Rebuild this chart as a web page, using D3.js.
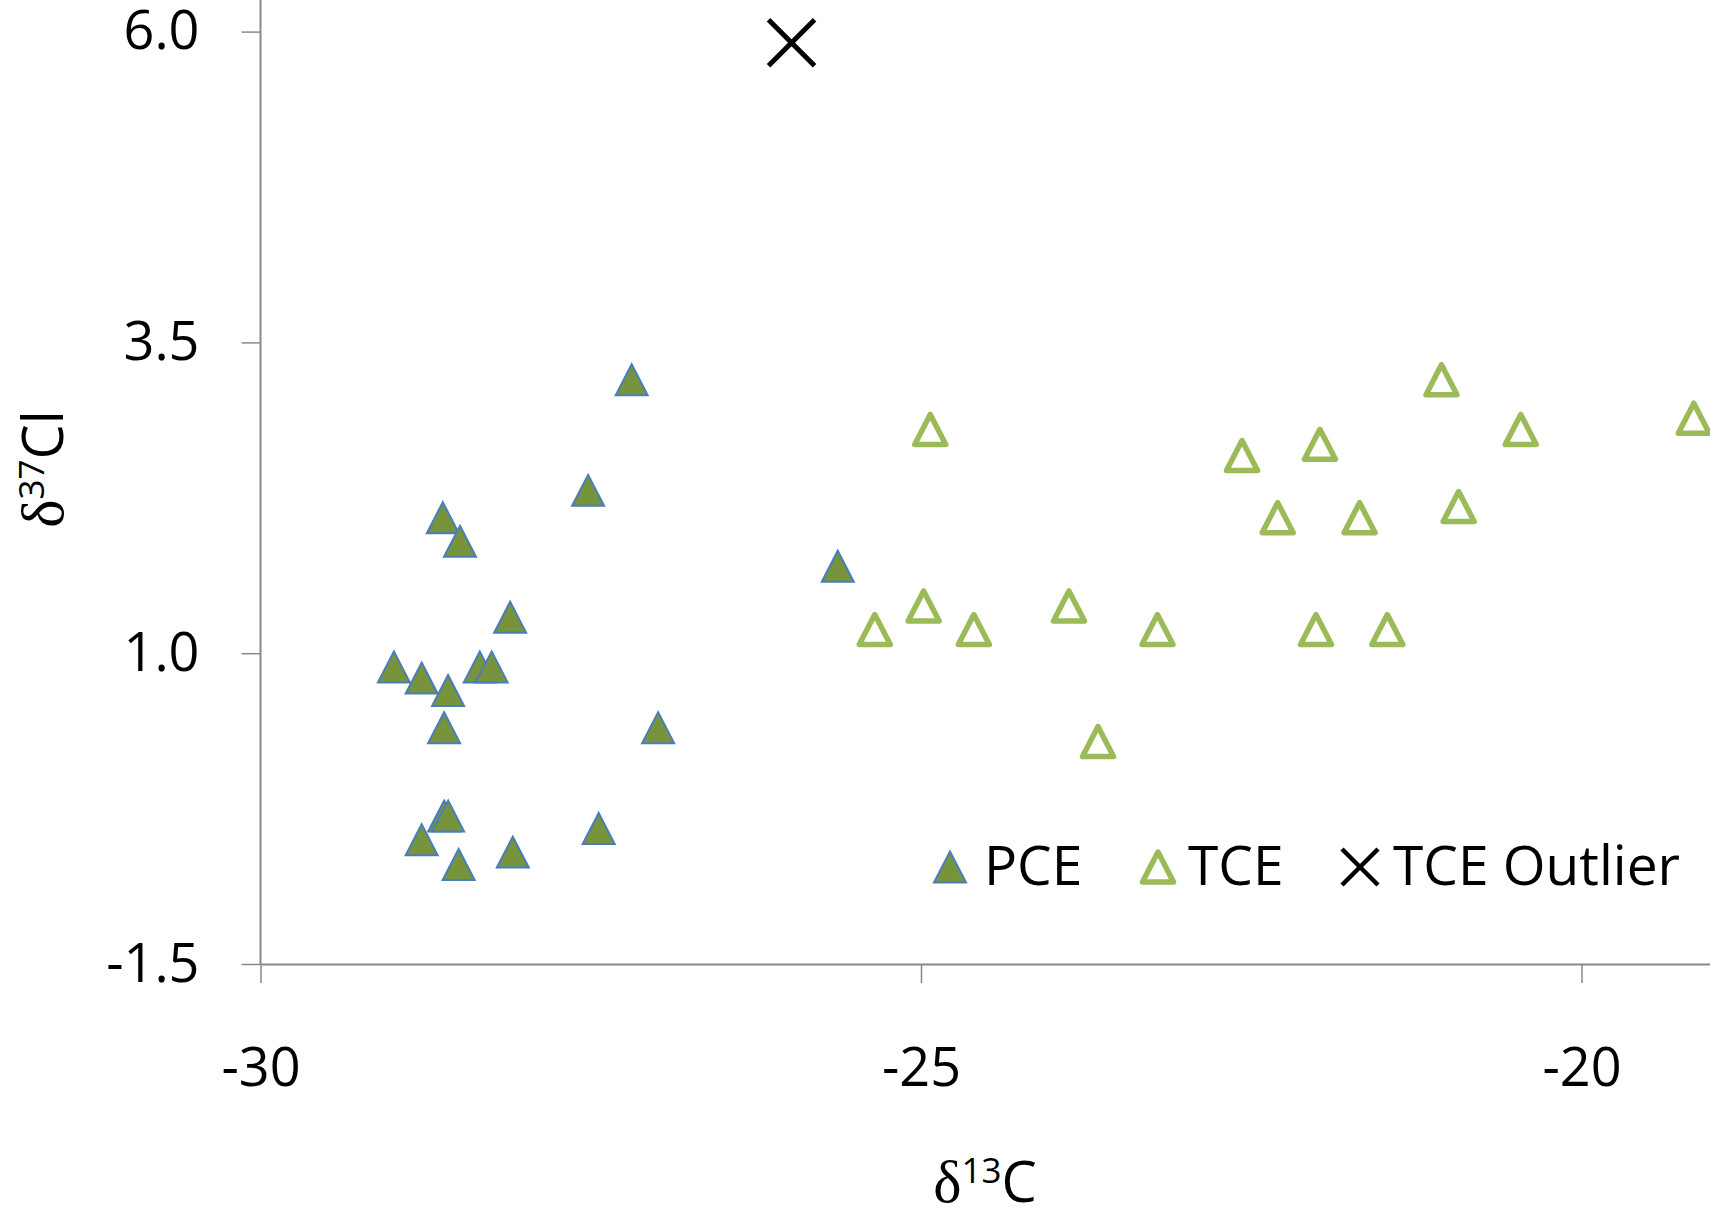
<!DOCTYPE html>
<html>
<head>
    <meta charset="utf-8">
    <title>Carbon vs chlorine isotopes</title>
    <style>
        body { margin: 0; background: #fff; }
        svg { display: block; }
        text { font-family: 'Open Sans', sans-serif; fill: #000; }
        .delta { font-family: 'Liberation Serif', 'DejaVu Serif', serif; }
    </style>
</head>
<body>
<div id="chart"></div>

<script src="https://d3js.org/d3.v7.min.js"></script>
<script>
// values (d13C, d37Cl)
var pceC  = [-27.19, -27.52, -28.62, -28.49, -25.63, -28.11, -28.99, -28.78, -28.58, -28.34,
             -28.25, -28.61, -26.99, -28.61, -28.58, -28.78, -28.50, -28.09, -27.44];
var pceCl = [ 3.20,   2.31,   2.09,   1.90,   1.70,   1.29,   0.89,   0.80,   0.70,   0.89,
              0.89,   0.40,   0.40,  -0.31,  -0.31,  -0.50,  -0.70,  -0.60,  -0.41];

var tceC  = [-24.93, -25.35, -24.98, -24.60, -23.88, -23.21, -23.66, -22.57, -22.30,
             -21.98, -21.68, -21.06, -20.46, -20.93, -19.15, -22.01, -21.47];
var tceCl = [ 2.80,   1.19,   1.38,   1.19,   1.38,   1.19,   0.29,   2.59,   2.09,
              2.68,   2.09,   3.20,   2.80,   2.18,   2.89,   1.19,   1.19];

var outC  = [-25.98];
var outCl = [ 5.91];

var xTicks = [-30, -25, -20];
var yTicks = [-1.5, 1.0, 3.5, 6.0];
var seriesNames = ["PCE", "TCE", "TCE Outlier"];

var width = 1710, height = 1218;
var axisColor = "#898989";

var svg = d3.select("#chart").append("svg")
    .attr("width", width)
    .attr("height", height);

var x = d3.scaleLinear().domain([-30, -19]).range([260.5, 1713.6]);
var y = d3.scaleLinear().domain([-1.5, 6.0]).range([964, 31.6]);

// triangle marker, centred on its bounding box like Excel does
function tri(hw, hh) {
    return "M0," + (-hh) + "L" + hw + "," + hh + "L" + (-hw) + "," + hh + "Z";
}
function cross(r) {
    return "M" + (-r) + "," + (-r) + "L" + r + "," + r + "M" + r + "," + (-r) + "L" + (-r) + "," + r;
}

// axes
var xAxis = svg.append("g")
    .attr("transform", "translate(0," + y(-1.5) + ")")
    .call(d3.axisBottom(x).tickValues(xTicks).tickSize(19).tickSizeOuter(0).tickPadding(65));

var yAxis = svg.append("g")
    .attr("transform", "translate(" + x(-30) + ",0)")
    .call(d3.axisLeft(y).tickValues(yTicks).tickSize(19).tickSizeOuter(0).tickPadding(42));
// y axis line runs to the top edge
yAxis.select(".domain").attr("d", "M0," + y(-1.5) + "V0");

[xAxis, yAxis].forEach(function(g) {
    g.select(".domain").attr("stroke", axisColor).attr("stroke-width", 2);
    g.selectAll(".tick line").attr("stroke", axisColor).attr("stroke-width", 1.5);
    g.selectAll(".tick text")
        .attr("fill", "#000")
        .style("font-size", "54px")
        .style("font-family", "'Open Sans', sans-serif");
});
// d3 uses a unicode minus, the chart has a plain hyphen
xAxis.selectAll(".tick text").text(function(d) { return String(d); });
yAxis.selectAll(".tick text").text(function(d) { return d.toFixed(1); });

// points
var pce = pceC.map(function(c, i) { return {c: c, cl: pceCl[i]}; });
var tce = tceC.map(function(c, i) { return {c: c, cl: tceCl[i]}; });
var out = outC.map(function(c, i) { return {c: c, cl: outCl[i]}; });

svg.append("g").selectAll("path")
    .data(pce).enter().append("path")
    .attr("d", tri(16, 15.5))
    .attr("transform", function(d) { return "translate(" + x(d.c) + "," + y(d.cl) + ")"; })
    .attr("fill", "#77933C")
    .attr("stroke", "#4A7EBB")
    .attr("stroke-width", 2);

svg.append("g").selectAll("path")
    .data(tce).enter().append("path")
    .attr("d", tri(15.5, 15))
    .attr("transform", function(d) { return "translate(" + x(d.c) + "," + y(d.cl) + ")"; })
    .attr("fill", "#fff")
    .attr("stroke", "#9BBB59")
    .attr("stroke-width", 5.5)
    .attr("stroke-linejoin", "round");

svg.append("g").selectAll("path")
    .data(out).enter().append("path")
    .attr("d", cross(23))
    .attr("transform", function(d) { return "translate(" + x(d.c) + "," + y(d.cl) + ")"; })
    .attr("fill", "none")
    .attr("stroke", "#000")
    .attr("stroke-width", 5);

// axis titles
var xTitle = svg.append("text")
    .attr("x", 985).attr("y", 1202)
    .attr("text-anchor", "middle")
    .style("font-size", "56px");
xTitle.append("tspan").attr("class", "delta").style("font-size", "60px").text("δ");
xTitle.append("tspan").attr("dy", -19).style("font-size", "35px").text("13");
xTitle.append("tspan").attr("dy", 19).text("C");

var yTitle = svg.append("text")
    .attr("transform", "translate(63,469) rotate(-90)")
    .attr("text-anchor", "middle")
    .style("font-size", "56px");
yTitle.append("tspan").attr("class", "delta").style("font-size", "60px").text("δ");
yTitle.append("tspan").attr("dy", -19).style("font-size", "35px").text("37");
yTitle.append("tspan").attr("dy", 19).text("Cl");

// legend
var legend = svg.append("g").attr("transform", "translate(0,867)");
var legX = [950, 1158, 1360];

legend.append("path").attr("d", tri(16, 15.5))
    .attr("transform", "translate(" + legX[0] + ",0)")
    .attr("fill", "#77933C").attr("stroke", "#4A7EBB").attr("stroke-width", 2);
legend.append("path").attr("d", tri(15.5, 15))
    .attr("transform", "translate(" + legX[1] + ",0)")
    .attr("fill", "#fff").attr("stroke", "#9BBB59").attr("stroke-width", 5.5)
    .attr("stroke-linejoin", "round");
legend.append("path").attr("d", cross(18))
    .attr("transform", "translate(" + legX[2] + ",0)")
    .attr("fill", "none").attr("stroke", "#000").attr("stroke-width", 4.5);

legend.selectAll("text.lab")
    .data(seriesNames).enter().append("text")
    .attr("class", "lab")
    .attr("x", function(d, i) { return legX[i] + [34, 30, 33][i]; })
    .attr("y", 18)
    .style("font-size", "55px")
    .text(function(d) { return d; });
</script>
</body>
</html>
